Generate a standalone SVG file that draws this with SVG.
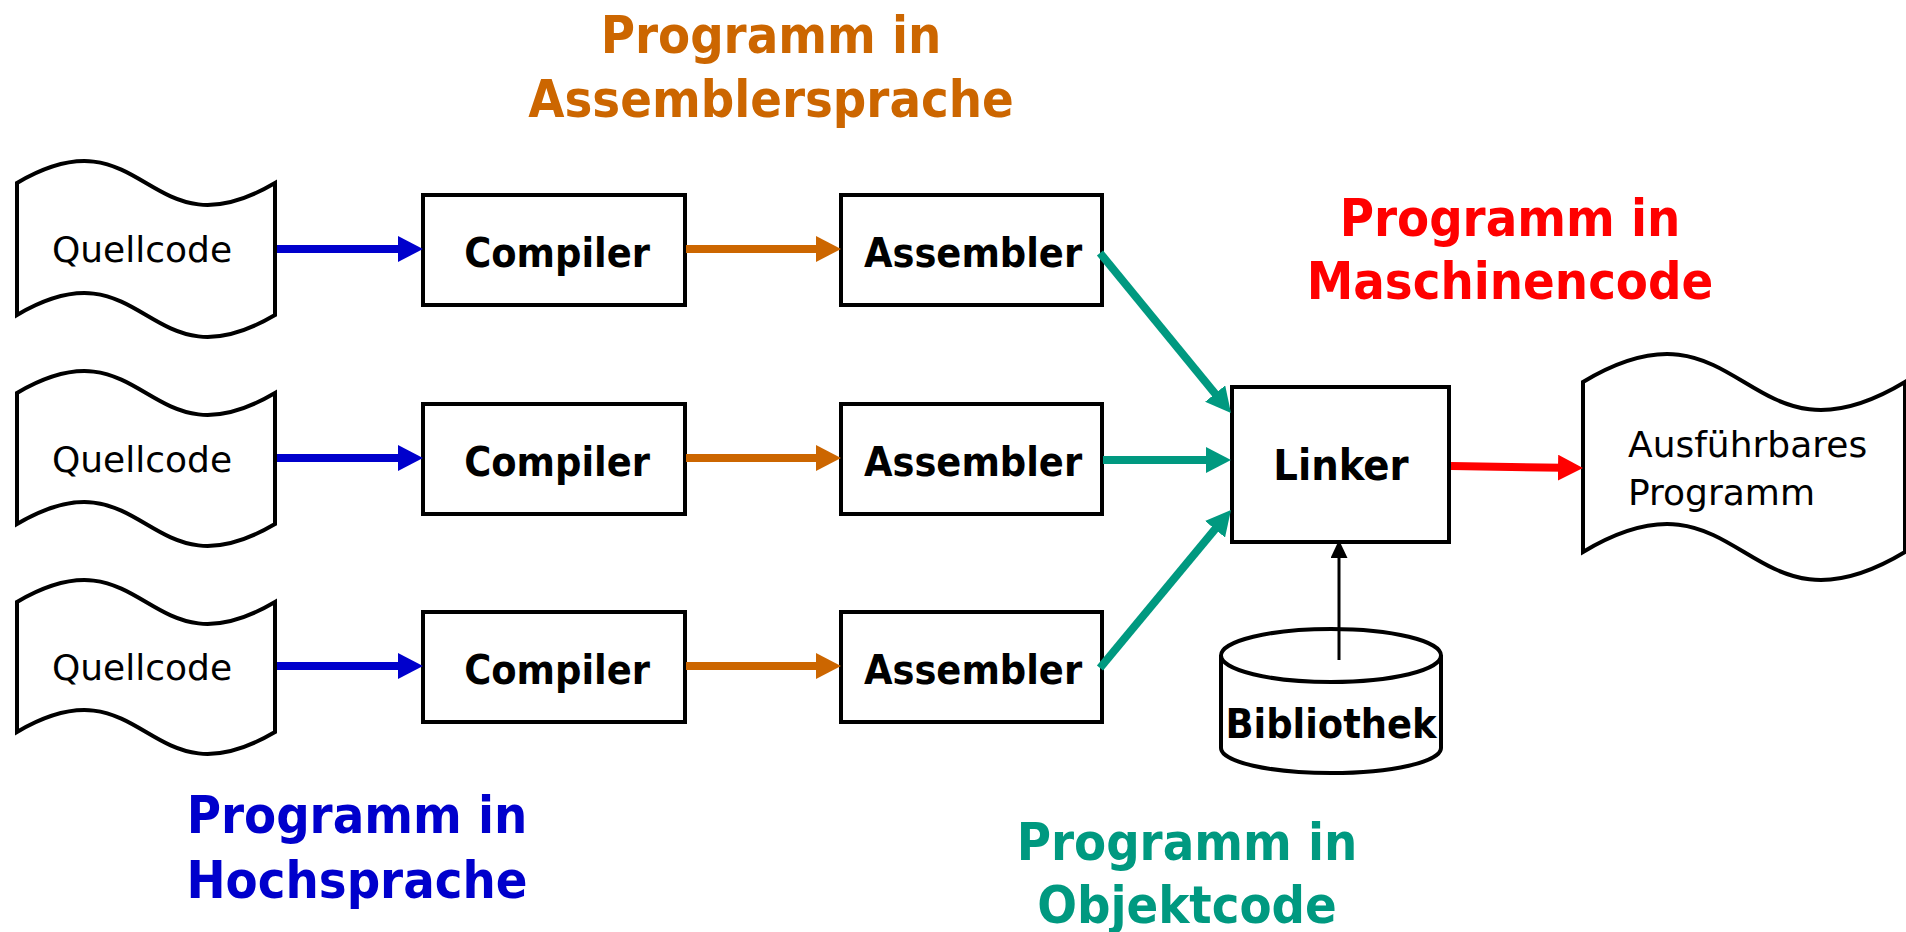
<svg xmlns="http://www.w3.org/2000/svg" width="1906" height="932" viewBox="0 0 1906 932">
<style>
.shape{fill:#fff;stroke:#000;stroke-width:4;stroke-linejoin:miter}
.reg{font-family:'DejaVu Sans','Liberation Sans',sans-serif;font-size:36px;fill:#000}
.bold{font-family:'DejaVu Sans Condensed','DejaVu Sans','Liberation Sans',sans-serif;font-stretch:condensed;font-weight:bold;font-size:41px;fill:#000;text-anchor:middle}
.lbl{font-family:'DejaVu Sans Condensed','DejaVu Sans','Liberation Sans',sans-serif;font-stretch:condensed;font-weight:bold;font-size:52px;text-anchor:middle}
.ab{stroke:#0000CC;stroke-width:8;fill:none}
.ao{stroke:#CC6600;stroke-width:8;fill:none}
.ag{stroke:#009980;stroke-width:8;fill:none}
.ar{stroke:#FF0000;stroke-width:8;fill:none}
</style>
<defs>
<marker id="mb" markerUnits="userSpaceOnUse" viewBox="0 0 25 26" refX="5" refY="13" markerWidth="25" markerHeight="26" orient="auto"><path d="M0,0 L25,13 L0,26 Z" fill="#0000CC"/></marker>
<marker id="mo" markerUnits="userSpaceOnUse" viewBox="0 0 25 26" refX="5" refY="13" markerWidth="25" markerHeight="26" orient="auto"><path d="M0,0 L25,13 L0,26 Z" fill="#CC6600"/></marker>
<marker id="mg" markerUnits="userSpaceOnUse" viewBox="0 0 25 26" refX="5" refY="13" markerWidth="25" markerHeight="26" orient="auto"><path d="M0,0 L25,13 L0,26 Z" fill="#009980"/></marker>
<marker id="mr" markerUnits="userSpaceOnUse" viewBox="0 0 25 26" refX="5" refY="13" markerWidth="25" markerHeight="26" orient="auto"><path d="M0,0 L25,13 L0,26 Z" fill="#FF0000"/></marker>
<marker id="mk" markerUnits="userSpaceOnUse" viewBox="0 0 18 17" refX="2" refY="8.5" markerWidth="18" markerHeight="17" orient="auto"><path d="M0,0 L18,8.5 L0,17 Z" fill="#000"/></marker>
</defs>

<g id="labels">
<text class="lbl" fill="#CC6600" x="771" y="53">Programm in</text>
<text class="lbl" fill="#CC6600" x="771" y="117">Assemblersprache</text>
<text class="lbl" fill="#FF0000" x="1510" y="236">Programm in</text>
<text class="lbl" fill="#FF0000" x="1510" y="299">Maschinencode</text>
<text class="lbl" fill="#0000CC" x="357" y="833">Programm in</text>
<text class="lbl" fill="#0000CC" x="357" y="898">Hochsprache</text>
<text class="lbl" fill="#009980" x="1187" y="860">Programm in</text>
<text class="lbl" fill="#009980" x="1187" y="923">Objektcode</text>
</g>

<g id="quellcode1">
<path class="shape" d="M17,183 C146,107 146,259 275,183 L275,315 C146,391 146,239 17,315 Z"/>
<text class="reg" x="142" y="262" text-anchor="middle">Quellcode</text>
</g>
<g id="quellcode2">
<path class="shape" d="M17,393 C146,317 146,469 275,393 L275,524 C146,600 146,448 17,524 Z"/>
<text class="reg" x="142" y="472" text-anchor="middle">Quellcode</text>
</g>
<g id="quellcode3">
<path class="shape" d="M17,602 C146,526 146,678 275,602 L275,732 C146,808 146,656 17,732 Z"/>
<text class="reg" x="142" y="680" text-anchor="middle">Quellcode</text>
</g>

<g id="compiler1"><rect class="shape" x="423" y="195" width="262" height="110"/><text class="bold" x="557" y="267">Compiler</text></g>
<g id="compiler2"><rect class="shape" x="423" y="404" width="262" height="110"/><text class="bold" x="557" y="476">Compiler</text></g>
<g id="compiler3"><rect class="shape" x="423" y="612" width="262" height="110"/><text class="bold" x="557" y="684">Compiler</text></g>

<g id="assembler1"><rect class="shape" x="841" y="195" width="261" height="110"/><text class="bold" x="973" y="267">Assembler</text></g>
<g id="assembler2"><rect class="shape" x="841" y="404" width="261" height="110"/><text class="bold" x="973" y="476">Assembler</text></g>
<g id="assembler3"><rect class="shape" x="841" y="612" width="261" height="110"/><text class="bold" x="973" y="684">Assembler</text></g>

<g id="linker"><rect class="shape" x="1232" y="387" width="217" height="155"/><text class="bold" x="1341" y="480" style="font-size:43px">Linker</text></g>

<g id="bibliothek">
<path class="shape" d="M1221,655 L1221,748 A110,25 0 0 0 1441,748 L1441,655"/>
<ellipse class="shape" cx="1331" cy="655.5" rx="110" ry="26.5"/>
<text class="bold" x="1331" y="738">Bibliothek</text>
</g>

<g id="ausfuehrbares">
<path class="shape" d="M1583,382 C1744,285 1744,479 1905,382 L1905,552 C1744,649 1744,455 1583,552 Z"/>
<text class="reg" x="1628" y="457">Ausführbares</text>
<text class="reg" x="1628" y="505">Programm</text>
</g>

<g id="connectors">
<line class="ab" x1="277" y1="249" x2="403" y2="249" marker-end="url(#mb)"/>
<line class="ab" x1="277" y1="458" x2="403" y2="458" marker-end="url(#mb)"/>
<line class="ab" x1="277" y1="666" x2="403" y2="666" marker-end="url(#mb)"/>
<line class="ao" x1="686" y1="249" x2="821" y2="249" marker-end="url(#mo)"/>
<line class="ao" x1="686" y1="458" x2="821" y2="458" marker-end="url(#mo)"/>
<line class="ao" x1="686" y1="666" x2="821" y2="666" marker-end="url(#mo)"/>
<line class="ag" x1="1100" y1="253" x2="1218.3" y2="397.5" marker-end="url(#mg)"/>
<line class="ag" x1="1103" y1="460" x2="1211" y2="460" marker-end="url(#mg)"/>
<line class="ag" x1="1100" y1="668" x2="1218.2" y2="525.4" marker-end="url(#mg)"/>
<line class="ar" x1="1451" y1="466" x2="1563" y2="467.8" marker-end="url(#mr)"/>
<line x1="1339" y1="660" x2="1339" y2="556" stroke="#000" stroke-width="3" marker-end="url(#mk)"/>
</g>
</svg>
